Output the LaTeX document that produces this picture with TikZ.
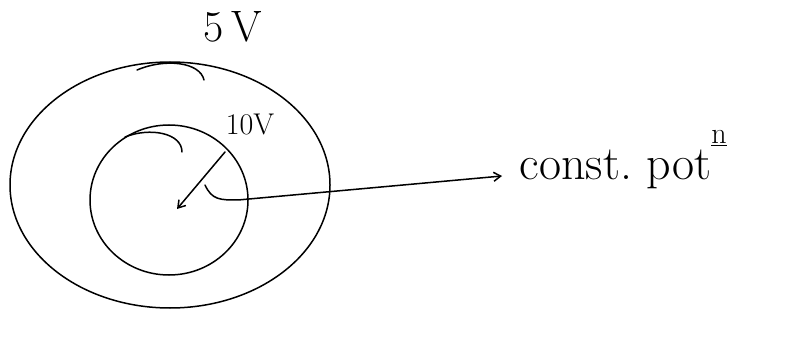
\documentclass[tikz,border=0pt]{standalone}
\usepackage{tikz}
\usetikzlibrary{arrows.meta}
\tikzset{volt/.style={draw=none, fill=none, inner sep=1pt},
  hand/.style={line width=1.5pt, line cap=round, line join=round}}

\begin{document}
\begin{tikzpicture}[x=1pt, y=-1pt, >={Straight Barb[length=7pt, width=9pt]}, hand]
  \useasboundingbox (0,0) rectangle (808,339);
  % shells
  \draw (170,185) ellipse [x radius=160, y radius=123];
  \draw (169,200) ellipse [x radius=79, y radius=75];
  \draw (137,70) .. controls (165,58) and (200,62) .. (204,80);
  \draw (125,137) .. controls (150,127) and (182,133) .. (182,152);
  % labels
  \node[volt, font=\fontsize{44}{48}\selectfont] (outer) at (233,27) {5\,V};
  \node[volt, font=\fontsize{30}{34}\selectfont] (inner) at (250,124) {10V};
  \node[volt, anchor=base west, font=\fontsize{48}{52}\selectfont] (pot)
    at (518,180) {const.\ pot\raisebox{0.75em}{\fontsize{30}{32}\selectfont\underline{n}}};
  % arrows
  \coordinate (rim) at (225,152);
  \coordinate (ctr) at (177,209);
  \draw[->] (rim) -- (ctr);
  \coordinate (in) at (205,185);
  \draw[->] (in) .. controls (212,200) and (220,200) .. (238,200)
    -- ([shift={(-16,-4)}]pot.base west);
\end{tikzpicture}
\end{document}
